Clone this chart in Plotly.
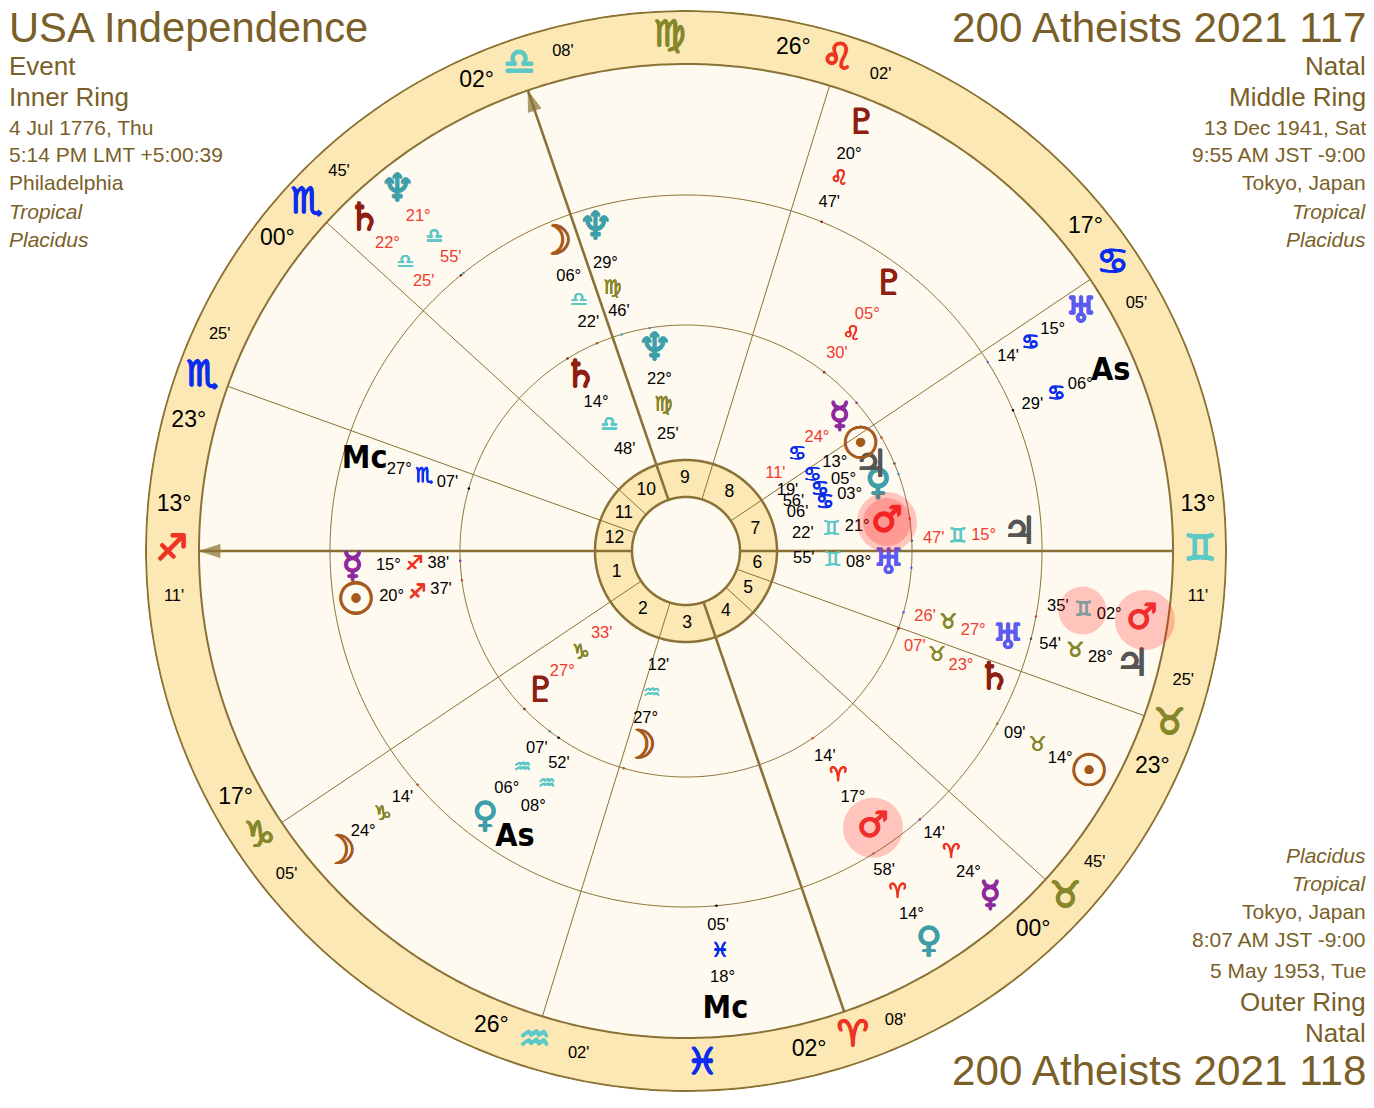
import numpy as np
import plotly.graph_objects as go

# ---------- data ----------
SIGN_NAMES = ["Ari", "Tau", "Gem", "Can", "Leo", "Vir", "Lib", "Sco", "Sag", "Cap", "Aqu", "Pis"]
SIGN_GLYPHS = ["♈", "♉", "♊", "♋", "♌", "♍", "♎", "♏", "♐", "♑", "♒", "♓"]
BODY_GLYPHS = {"Sun": "☉", "Moon": "☽", "Mercury": "☿", "Venus": "♀", "Mars": "♂", "Jupiter": "♃",
               "Saturn": "♄", "Uranus": "♅", "Neptune": "♆", "Pluto": "♇", "As": "As", "Mc": "Mc"}

CUSP_SIGNS = ["Sag", "Cap", "Aqu", "Ari", "Tau", "Tau", "Gem", "Can", "Leo", "Lib", "Sco", "Sco"]
CUSP_DEGS = [13, 17, 26, 2, 0, 23, 13, 17, 26, 2, 0, 23]
CUSP_MINS = [11, 5, 2, 8, 45, 25, 11, 5, 2, 8, 45, 25]
HOUSE_LABELS = ["1", "2", "3", "4", "5", "6", "7", "8", "9", "10", "11", "12"]
INTERCEPTED = ["Vir", "Pis"]

OUTER_BODIES = ["Mars", "Jupiter", "Sun", "Mercury", "Venus", "Mc", "Moon", "Saturn", "Neptune", "Pluto", "As", "Uranus"]
OUTER_SIGNS = ["Gem", "Tau", "Tau", "Ari", "Ari", "Pis", "Cap", "Lib", "Lib", "Leo", "Can", "Can"]
OUTER_DEGS = [2, 28, 14, 24, 14, 18, 24, 22, 21, 20, 6, 15]
OUTER_MINS = [35, 54, 9, 14, 58, 5, 14, 25, 55, 47, 29, 14]
OUTER_RETRO = [0, 0, 0, 0, 0, 0, 0, 1, 1, 0, 0, 0]

MIDDLE_BODIES = ["Mars", "Mc", "Mercury", "Sun", "Venus", "As", "Pluto", "Uranus", "Saturn", "Jupiter", "Moon", "Neptune"]
MIDDLE_SIGNS = ["Ari", "Sco", "Sag", "Sag", "Aqu", "Aqu", "Leo", "Tau", "Tau", "Gem", "Lib", "Vir"]
MIDDLE_DEGS = [17, 27, 15, 20, 6, 8, 5, 27, 23, 15, 6, 29]
MIDDLE_MINS = [14, 7, 38, 37, 7, 52, 30, 26, 7, 47, 22, 46]
MIDDLE_RETRO = [0, 0, 0, 0, 0, 0, 1, 1, 1, 1, 0, 0]

INNER_BODIES = ["Mars", "Uranus", "Venus", "Jupiter", "Sun", "Mercury", "Pluto", "Moon", "Neptune", "Saturn"]
INNER_SIGNS = ["Gem", "Gem", "Can", "Can", "Can", "Can", "Cap", "Aqu", "Vir", "Lib"]
INNER_DEGS = [21, 8, 3, 5, 13, 24, 27, 27, 22, 14]
INNER_MINS = [22, 55, 6, 56, 19, 11, 33, 12, 25, 48]
INNER_RETRO = [0, 0, 0, 0, 0, 1, 1, 0, 0, 0]

LEFT_TITLE = ["USA Independence", "Event", "Inner Ring", "4 Jul 1776, Thu", "5:14 PM LMT +5:00:39",
              "Philadelphia", "<i>Tropical</i>", "<i>Placidus</i>"]
RIGHT_TITLE = ["200 Atheists 2021 117", "Natal", "Middle Ring", "13 Dec 1941, Sat", "9:55 AM JST -9:00",
               "Tokyo, Japan", "<i>Tropical</i>", "<i>Placidus</i>"]
BOTTOM_TITLE = ["<i>Placidus</i>", "<i>Tropical</i>", "Tokyo, Japan", "8:07 AM JST -9:00", "5 May 1953, Tue",
                "Outer Ring", "Natal", "200 Atheists 2021 118"]

# ---------- layout constants (label nudges keep glyphs from colliding) ----------
OUTER_NUDGE = [2.05, -0.2, 0, 0.25, 0, 0, 0, 5, 0, 0, -0.4, -1]
MIDDLE_NUDGE = [0, 0.2, 0.5, 1.5, 0.1, 3.5, 0.2, 0.3, -2.6, 0.3, 0, -0.9]
INNER_NUDGE = [0, 0.35, -1, 1.65, 0.55, -0.2, 0, 2.5, -0.4, -0.3]

W, H = 1358, 1092          # page adds an 8px body margin
CX, CY, RAD = 678, 543, 541
R_OUT, R_BAND, R_MID, R_IN, R_HOUSE, R_CORE = 540, 487, 356, 226, 91, 54
LINE = "#8a7236"
RING = "#fbe8b4"
CREAM = "#fffaf0"
TEXT = "#7a5f28"
RED = "#f03a2e"

SIGN_COLORS = {"Ari": "#ee3322", "Leo": "#ee3322", "Sag": "#ee3322",
               "Tau": "#86862a", "Vir": "#86862a", "Cap": "#86862a",
               "Gem": "#5cc8c8", "Lib": "#5cc8c8", "Aqu": "#5cc8c8",
               "Can": "#0a2dee", "Sco": "#0a2dee", "Pis": "#0a2dee"}
BODY_COLORS = {"Sun": "#a5591c", "Moon": "#a5591c", "Mercury": "#8e2a9e", "Venus": "#3f9fa8",
               "Mars": "#ee3b3b", "Jupiter": "#555555", "Saturn": "#8f1f12", "Uranus": "#5b5bf0",
               "Neptune": "#3f9fa8", "Pluto": "#8f1f12", "As": "#000000", "Mc": "#000000"}
BODY_SIZES = {"Sun": 44, "Moon": 40, "Saturn": 38, "Jupiter": 38, "Neptune": 38}
SYM = "DejaVu Sans"
SANS = "Liberation Sans, Arial, sans-serif"
NARROW = "Liberation Sans Narrow, DejaVu Sans Condensed, sans-serif"


def lon(sign, deg, minute):
    return SIGN_NAMES.index(sign) * 30 + deg + minute / 60


def glyph(sign):
    return SIGN_GLYPHS[SIGN_NAMES.index(sign)] + "\ufe0e"


cusps = [lon(s, d, m) for s, d, m in zip(CUSP_SIGNS, CUSP_DEGS, CUSP_MINS)]
asc = cusps[0]
widths = [(cusps[(i + 1) % 12] - cusps[i]) % 360 for i in range(12)]
mids = [(cusps[i] + widths[i] / 2) % 360 for i in range(12)]
circle = np.linspace(0, 360, 721)

fig = go.Figure()
fig.add_trace(go.Barpolar(r=[R_BAND], theta=[0], width=[360], base=[0],
                          marker=dict(color=CREAM, line=dict(width=0)), hoverinfo="skip"))
fig.add_trace(go.Barpolar(r=[R_HOUSE - R_CORE] * 12, theta=mids, width=widths, base=[R_CORE] * 12,
                          marker=dict(color=RING, line=dict(width=0)), hoverinfo="skip"))


def ln(r, theta, width):
    fig.add_trace(go.Scatterpolar(r=r, theta=theta, mode="lines", line=dict(color=LINE, width=width),
                                  hoverinfo="skip", cliponaxis=False))


for rr, wd in [(R_OUT, 2), (R_BAND, 2), (R_MID, 1), (R_IN, 1), (R_HOUSE, 2.5), (R_CORE, 2.5)]:
    ln([rr] * len(circle), circle, wd)

for i, c in enumerate(cusps):
    major = i in (0, 3, 6, 9)
    ln([R_CORE, R_BAND], [c, c], 2.6 if major else 1)

for idx in (0, 9):
    fig.add_trace(go.Scatterpolar(r=[R_BAND - 16, R_BAND - 1], theta=[cusps[idx]] * 2, mode="markers",
                                  marker=dict(symbol="arrow", size=[0, 21], color=LINE, angleref="previous",
                                              line=dict(width=1, color=LINE)),
                                  hoverinfo="skip", cliponaxis=False))


def txt(r, theta, text, color, size, family=SANS, weight="normal"):
    fig.add_trace(go.Scatterpolar(r=r, theta=theta, text=text, mode="text",
                                  textposition="middle center",
                                  textfont=dict(color=color, size=size, family=family, weight=weight),
                                  hoverinfo="skip", cliponaxis=False))


def thick(r, theta, text, color, size, family=SYM, amount=0.8):
    """Text in one colour per trace, thickened with a CSS shadow ring."""
    for col in dict.fromkeys(color):
        keep = [i for i, c in enumerate(color) if c == col]
        a = amount
        shadow = f"{a}px 0 0 {col},-{a}px 0 0 {col},0 {a}px 0 {col},0 -{a}px 0 {col}"
        fig.add_trace(go.Scatterpolar(r=[r[i] for i in keep], theta=[theta[i] for i in keep],
                                      text=[text[i] for i in keep], mode="text",
                                      textposition="middle center",
                                      textfont=dict(color=col, size=[size[i] for i in keep], family=family,
                                                    shadow=shadow),
                                      hoverinfo="skip", cliponaxis=False))


txt([72.5] * 12, mids, HOUSE_LABELS, "#000000", 17.5)

R_TXT = 514
DEG_SIDE = [-5.1] * 6 + [5.1] * 6
thick([R_TXT] * 12, cusps, [glyph(s) for s in CUSP_SIGNS], [SIGN_COLORS[s] for s in CUSP_SIGNS], [36] * 12)
txt([R_TXT] * 12, [c + o for c, o in zip(cusps, DEG_SIDE)], [f"{d:02d}°" for d in CUSP_DEGS], "#000000", 23)
txt([R_TXT] * 12, [c - o for c, o in zip(cusps, DEG_SIDE)], [f"{m:02d}'" for m in CUSP_MINS], "#000000", 16.5)
thick([R_TXT] * 2, [lon(s, 15, 0) for s in INTERCEPTED], [glyph(s) for s in INTERCEPTED],
      [SIGN_COLORS[s] for s in INTERCEPTED], [36] * 2)


def ring(bodies, signs, degs, mins, retro, nudge, tracks, tick_r):
    true = [lon(s, d, m) for s, d, m in zip(signs, degs, mins)]
    shown = [t + n for t, n in zip(true, nudge)]
    fig.add_trace(go.Scatterpolar(r=[tick_r] * len(true), theta=true, mode="markers",
                                  marker=dict(size=2.5, color=[BODY_COLORS[b] for b in bodies], line=dict(width=0)),
                                  hoverinfo="skip", cliponaxis=False))
    planets = [i for i, b in enumerate(bodies) if b not in ("As", "Mc")]
    angles = [i for i, b in enumerate(bodies) if b in ("As", "Mc")]
    thick([tracks[0]] * len(planets), [shown[i] for i in planets],
          [BODY_GLYPHS[bodies[i]] + "\ufe0e" for i in planets],
          [BODY_COLORS[bodies[i]] for i in planets],
          [BODY_SIZES.get(bodies[i], 35) for i in planets], amount=0.7)
    if angles:
        txt([tracks[0]] * len(angles), [shown[i] for i in angles], [bodies[i] for i in angles],
            "#000000", 32, NARROW, "bold")
    colors = [RED if x else "#000000" for x in retro]
    txt([tracks[1]] * len(true), shown, [f"{d:02d}°" for d in degs], colors, 16.5)
    thick([tracks[2]] * len(true), shown, [glyph(s) for s in signs], [SIGN_COLORS[s] for s in signs],
          [20] * len(true), amount=0.3)
    txt([tracks[3]] * len(true), shown, [f"{m:02d}'" for m in mins], colors, 16.5)
    return shown


TRACK_OUT = (461, 428, 402, 376)
TRACK_MID = (334, 298, 272, 248)
TRACK_INN = (203, 173, 147, 118)
shown_o = ring(OUTER_BODIES, OUTER_SIGNS, OUTER_DEGS, OUTER_MINS, OUTER_RETRO, OUTER_NUDGE, TRACK_OUT, R_MID)
shown_m = ring(MIDDLE_BODIES, MIDDLE_SIGNS, MIDDLE_DEGS, MIDDLE_MINS, MIDDLE_RETRO, MIDDLE_NUDGE, TRACK_MID, R_IN)
shown_i = ring(INNER_BODIES, INNER_SIGNS, INNER_DEGS, INNER_MINS, INNER_RETRO, INNER_NUDGE, TRACK_INN, R_IN)

halo_r = [TRACK_OUT[0] + 3, TRACK_OUT[2] - 1, TRACK_MID[0], TRACK_INN[0], TRACK_INN[0]]
halo_t = [shown_o[0], shown_o[0], shown_m[0], shown_i[0], shown_i[0]]
halo_s = [60, 48, 60, 60, 48]
fig.add_trace(go.Scatterpolar(r=halo_r, theta=halo_t, mode="markers",
                              marker=dict(size=halo_s, color="rgba(255,0,0,0.31)", line=dict(width=0)),
                              hoverinfo="skip", cliponaxis=False))

SIZES = [41.7, 26, 26, 21, 21, 21, 21, 21]
RIGHT_SIZES = [42.2, 26, 26, 21, 21, 21, 21, 21]
TOP_Y = [27, 66, 97, 127, 155, 183, 211, 239]
BOTTOM_Y = [855, 883, 911, 939, 970, 1002, 1033, 1070]
BOTTOM_SIZES = [21, 21, 21, 21, 21, 26, 26, 42.2]
anns = []


def caption(lines, ys, sizes, x, anchor):
    for t, y, s in zip(lines, ys, sizes):
        anns.append(dict(text=t, x=(x - 8) / W, y=1 - (y - 8) / H, xref="paper", yref="paper",
                         xanchor=anchor, yanchor="middle", showarrow=False, borderpad=0,
                         font=dict(family=SANS, size=s, color=TEXT)))


caption(LEFT_TITLE, TOP_Y, SIZES, 7.5, "left")
caption(RIGHT_TITLE, TOP_Y, RIGHT_SIZES, 1367, "right")
caption(BOTTOM_TITLE, BOTTOM_Y, BOTTOM_SIZES, 1367, "right")

fig.update_layout(
    width=W, height=H, margin=dict(l=0, r=0, t=0, b=0),
    paper_bgcolor="#ffffff", showlegend=False, annotations=anns,
    polar=dict(
        domain=dict(x=[(CX - RAD) / W, (CX + RAD) / W], y=[1 - (CY + RAD) / H, 1 - (CY - RAD) / H]),
        bgcolor=RING, barmode="overlay", bargap=0,
        radialaxis=dict(range=[0, RAD], visible=False),
        angularaxis=dict(visible=False, rotation=180 - asc, direction="counterclockwise"),
    ),
)
fig.write_html("out.html")
